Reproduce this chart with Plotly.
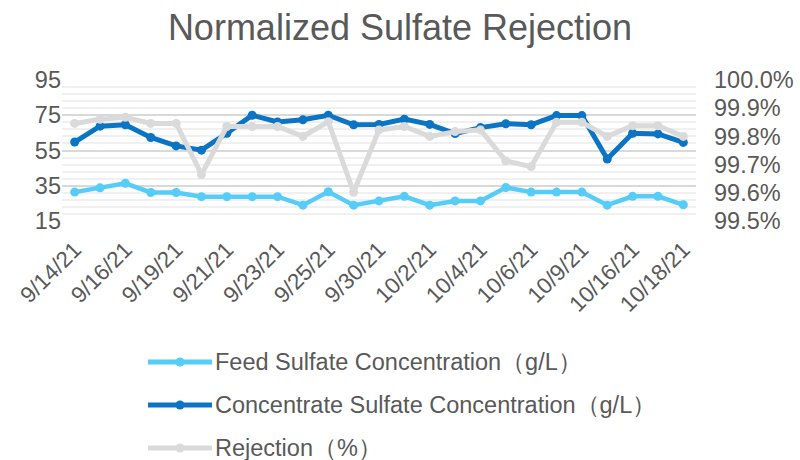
import plotly.graph_objects as go

# Sample dates (category axis)
dates = ["9/14/21", "9/15/21", "9/16/21", "9/17/21", "9/19/21", "9/20/21", "9/21/21",
         "9/22/21", "9/23/21", "9/24/21", "9/25/21", "9/28/21", "9/30/21", "10/1/21",
         "10/2/21", "10/3/21", "10/4/21", "10/5/21", "10/6/21", "10/7/21", "10/9/21",
         "10/12/21", "10/16/21", "10/17/21", "10/18/21"]

# Feed sulfate concentration (g/L)
feed = [31.4, 33.8, 36.4, 31.2, 31.2, 28.8, 28.8, 28.8, 28.8, 24.0, 31.6, 24.0, 26.4,
        29.0, 24.0, 26.4, 26.4, 34.0, 31.4, 31.4, 31.4, 24.0, 29.0, 29.0, 24.2]

# Concentrate sulfate concentration (g/L)
concentrate = [59.8, 68.8, 69.6, 62.4, 57.6, 55.2, 64.8, 75.0, 71.2, 72.4, 75.0, 69.6,
               69.8, 72.8, 69.8, 64.6, 68.0, 70.2, 69.6, 74.8, 74.8, 50.2, 64.8, 64.4, 59.6]

# Sulfate rejection (fraction)
rejection = [0.99846, 0.99861, 0.99868, 0.99846, 0.99846, 0.99665, 0.99835, 0.99835,
             0.99835, 0.99800, 0.99852, 0.99602, 0.99823, 0.99835, 0.99800, 0.99817,
             0.99823, 0.99713, 0.99693, 0.99850, 0.99850, 0.99800, 0.99838, 0.99838, 0.99800]

left_ticks = [15, 35, 55, 75, 95]

names = ["Feed Sulfate Concentration（g/L）",
         "Concentrate Sulfate Concentration（g/L）",
         "Rejection（%）"]
colors = ["#56CCF8", "#0B74C4", "#DADADA"]

FONT = "Liberation Sans, Arial, sans-serif"
TEXT = "#595959"

W, H = 800, 460
L, R, T, B = 62, 104, 80, 239
PW, PH = W - L - R, H - T - B


def px_x(x):
    return (x - L) / PW


def px_y(y):
    return (H - B - y) / PH


fig = go.Figure()
fig.add_trace(go.Scatter(
    x=dates, y=feed, name=names[0], showlegend=False,
    mode="lines+markers", line=dict(color=colors[0], width=4.5),
    marker=dict(size=9, color=colors[0]), yaxis="y"))
fig.add_trace(go.Scatter(
    x=dates, y=concentrate, name=names[1], showlegend=False,
    mode="lines+markers", line=dict(color=colors[1], width=5),
    marker=dict(size=9, color=colors[1]), yaxis="y"))
fig.add_trace(go.Scatter(
    x=dates, y=rejection, name=names[2], showlegend=False,
    mode="lines+markers", line=dict(color=colors[2], width=5),
    marker=dict(size=9, color=colors[2]), yaxis="y2"))

# Legend drawn below the plot: line swatch with a centre dot, then the label
shapes, annotations = [], []
for i, (name, col) in enumerate(zip(names, colors)):
    yc = 362 + 43 * i
    shapes.append(dict(type="line", xref="paper", yref="paper",
                       x0=px_x(148), x1=px_x(212), y0=px_y(yc), y1=px_y(yc),
                       line=dict(color=col, width=5)))
    shapes.append(dict(type="circle", xref="paper", yref="paper",
                       x0=px_x(175.5), x1=px_x(184.5), y0=px_y(yc + 4.5), y1=px_y(yc - 4.5),
                       line=dict(color=col, width=0), fillcolor=col))
    annotations.append(dict(text=name, xref="paper", yref="paper", x=px_x(213), y=px_y(yc),
                            xanchor="left", yanchor="middle", showarrow=False,
                            font=dict(size=23.5, color=TEXT, family=FONT)))

fig.update_layout(
    width=W, height=H,
    margin=dict(l=L, r=R, t=T, b=B, autoexpand=False),
    paper_bgcolor="white", plot_bgcolor="white",
    font=dict(family=FONT, color=TEXT),
    title=dict(text="Normalized Sulfate Rejection", x=0.5, xanchor="center",
               y=1 - 27 / H, yanchor="middle", font=dict(size=36, color=TEXT, family=FONT)),
    xaxis=dict(type="category", tickmode="array", tickvals=dates[::2],
               ticktext=dates[::2], tickangle=-45, showgrid=False, showline=False,
               ticks="", ticklabelstandoff=10, automargin=False,
               tickfont=dict(size=22.5, color=TEXT), range=[-0.5, len(dates) - 0.5]),
    yaxis=dict(range=[15, 95], tickmode="array", tickvals=left_ticks, automargin=False,
               showgrid=True, gridcolor="#D9D9D9", gridwidth=1.6, zeroline=False,
               tickfont=dict(size=23.5, color=TEXT), ticks="",
               minor=dict(dtick=4, tick0=15, showgrid=True, gridcolor="#F0F0F0", gridwidth=1.6)),
    yaxis2=dict(range=[0.995, 1.0], overlaying="y", side="right", dtick=0.001,
                tick0=0.995, tickformat=".1%", showgrid=False, zeroline=False,
                ticklabelstandoff=17, automargin=False,
                tickfont=dict(size=23.5, color=TEXT), ticks=""),
    shapes=shapes,
    annotations=annotations,
    showlegend=False,
)

fig.write_html("out.html")
